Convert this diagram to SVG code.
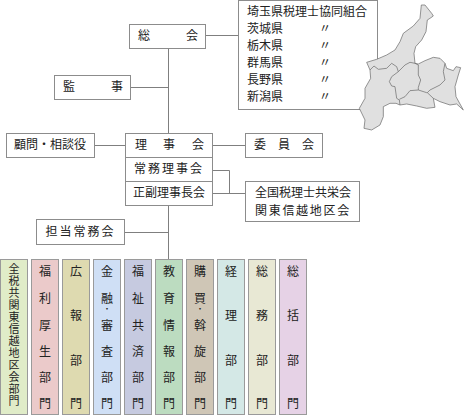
<svg xmlns="http://www.w3.org/2000/svg" width="464" height="416" viewBox="0 0 464 416">
<style>
.b{fill:#fff;stroke:#8c8c8c;stroke-width:1}
.c{fill:none;stroke:#7f7f7f;stroke-width:1}
.d{stroke:#9a9a9a;stroke-width:1}
text{font-family:"Noto Sans CJK JP","Noto Sans",sans-serif;font-size:12px;fill:#222}
.m{text-anchor:middle}
.s{font-size:11px}
.t{font-size:8px}
.map{fill:#e0e0e0;stroke:#6a6a6a;stroke-width:2.1;stroke-linejoin:round}
.bd{fill:none;stroke:#6a6a6a;stroke-width:2.1;stroke-linejoin:round}
</style>
<g id="connectors">
<path class="c" d="M168.500 48V133M131 87.500H168M94 145.500H125M168.500 205V259M124 232.500H168M206 35.500H238M212 145.500H245M213 170.500H229.500V193.500H245M213 193.500H230"/>
</g>
<g id="soukai"><rect class="b" x="129.500" y="24.500" width="76" height="24"/><text x="138" y="40">総</text><text x="186" y="40">会</text></g>
<g id="kansa"><rect class="b" x="54.500" y="75.500" width="76" height="24"/><text x="63" y="91">監</text><text x="111" y="91">事</text></g>
<g id="komon"><rect class="b" x="6.500" y="133.500" width="88" height="24"/><text x="50" y="149" class="m">顧問・相談役</text></g>
<g id="rijikai"><rect class="b" x="125.500" y="133.500" width="87" height="24"/><text x="135" y="149">理</text><text x="163" y="149">事</text><text x="192" y="149">会</text></g>
<g id="joumu"><rect class="b" x="125.500" y="157.500" width="87" height="24"/><text x="169" y="173" class="m" letter-spacing="2">常務理事会</text></g>
<g id="seifuku"><rect class="b" x="125.500" y="181.500" width="87" height="24"/><text x="169" y="197" class="m">正副理事長会</text></g>
<g id="tantou"><rect class="b" x="36.500" y="219.500" width="88" height="25"/><text x="80.500" y="236" class="m" letter-spacing="2">担当常務会</text></g>
<g id="iinkai"><rect class="b" x="245.500" y="133.500" width="77" height="24"/><text x="254" y="149">委</text><text x="278" y="149">員</text><text x="302" y="149">会</text></g>
<g id="zenkoku"><rect class="b" x="245.500" y="181.500" width="114" height="40"/><text x="255" y="197">全国税理士共栄会</text><text x="255" y="215" letter-spacing="1.700">関東信越地区会</text></g>
<g id="kumiai"><rect class="b" x="238.500" y="0.500" width="139" height="109"/><text x="247" y="16">埼玉県税理士協同組合</text>
<text x="247" y="33">茨城県</text><text x="319" y="33">〃</text><text x="247" y="50">栃木県</text><text x="319" y="50">〃</text><text x="247" y="67">群馬県</text><text x="319" y="67">〃</text><text x="247" y="84">長野県</text><text x="319" y="84">〃</text><text x="247" y="101">新潟県</text><text x="319" y="101">〃</text></g>
<g id="map" transform="translate(350 0) scale(.3333)">
<path class="map" d="M50 187L80 178L110 165L135 150L150 125L160 100L190 78L210 55L214 15L225 15L245 40L250 48L240 55L232 60L228 95L215 120L197 140L192 160L195 190L205 192L225 182L250 172L270 175L285 190L290 205L310 212L318 200L332 203L325 225L315 260L318 290L340 330L320 312L300 315L270 305L250 295L255 322L230 325L200 318L170 312L150 315L138 310L120 310L100 320L100 350L90 375L65 390L42 385L45 360L28 325L45 295L45 265L62 235L60 210Z"/>
<path class="bd" d="M60 210L72 198L85 208L110 205L125 190L140 200L145 215L165 195L180 187L195 190L205 195L205 225L212 240L205 262L205 270L230 278L232 278L240 270L270 255L285 240L280 215L285 190M145 215L125 230L118 245L125 258L135 260L140 295L148 300L150 315M148 298L165 290L180 272L205 270M232 278L250 295"/>
</g>
<g id="dept1"><rect class="d" x="0.500" y="259.500" width="27" height="155" fill="#e0ecc8"/><text class="m s" x="14" y="273">全</text><text class="m s" x="14" y="285">税</text><text class="m s" x="14" y="297">共</text><text class="m s" x="14" y="309">関</text><text class="m s" x="14" y="321">東</text><text class="m s" x="14" y="333">信</text><text class="m s" x="14" y="345">越</text><text class="m s" x="14" y="357">地</text><text class="m s" x="14" y="369">区</text><text class="m s" x="14" y="381">会</text><text class="m s" x="14" y="393">部</text><text class="m s" x="14" y="405">門</text></g>
<g id="dept2"><rect class="d" x="31.500" y="259.500" width="27" height="155" fill="#ebcaca"/><text class="m" x="45" y="276">福</text><text class="m" x="45" y="303">利</text><text class="m" x="45" y="330">厚</text><text class="m" x="45" y="356">生</text><text class="m" x="45" y="382">部</text><text class="m" x="45" y="408">門</text></g>
<g id="dept3"><rect class="d" x="62.500" y="259.500" width="27" height="155" fill="#dedab0"/><text class="m" x="76" y="276">広</text><text class="m" x="76" y="320">報</text><text class="m" x="76" y="365">部</text><text class="m" x="76" y="408">門</text></g>
<g id="dept4"><rect class="d" x="93.500" y="259.500" width="27" height="155" fill="#cfdff5"/><text class="m" x="107" y="276">金</text><text class="m" x="107" y="303">融</text><text class="m t" x="107" y="312">・</text><text class="m" x="107" y="330">審</text><text class="m" x="107" y="356">査</text><text class="m" x="107" y="382">部</text><text class="m" x="107" y="408">門</text></g>
<g id="dept5"><rect class="d" x="124.500" y="259.500" width="27" height="155" fill="#c6cae0"/><text class="m" x="138" y="276">福</text><text class="m" x="138" y="303">祉</text><text class="m" x="138" y="330">共</text><text class="m" x="138" y="356">済</text><text class="m" x="138" y="382">部</text><text class="m" x="138" y="408">門</text></g>
<g id="dept6"><rect class="d" x="155.500" y="259.500" width="27" height="155" fill="#bcdcc0"/><text class="m" x="169" y="276">教</text><text class="m" x="169" y="303">育</text><text class="m" x="169" y="330">情</text><text class="m" x="169" y="356">報</text><text class="m" x="169" y="382">部</text><text class="m" x="169" y="408">門</text></g>
<g id="dept7"><rect class="d" x="186.500" y="259.500" width="27" height="155" fill="#cfc6b6"/><text class="m" x="200" y="276">購</text><text class="m" x="200" y="303">買</text><text class="m t" x="200" y="312">・</text><text class="m" x="200" y="330">斡</text><text class="m" x="200" y="356">旋</text><text class="m" x="200" y="382">部</text><text class="m" x="200" y="408">門</text></g>
<g id="dept8"><rect class="d" x="217.500" y="259.500" width="27" height="155" fill="#d4e8e6"/><text class="m" x="231" y="276">経</text><text class="m" x="231" y="320">理</text><text class="m" x="231" y="365">部</text><text class="m" x="231" y="408">門</text></g>
<g id="dept9"><rect class="d" x="248.500" y="259.500" width="27" height="155" fill="#e8e8d4"/><text class="m" x="262" y="276">総</text><text class="m" x="262" y="320">務</text><text class="m" x="262" y="365">部</text><text class="m" x="262" y="408">門</text></g>
<g id="dept10"><rect class="d" x="279.500" y="259.500" width="27" height="155" fill="#e6d2e6"/><text class="m" x="293" y="276">総</text><text class="m" x="293" y="320">括</text><text class="m" x="293" y="365">部</text><text class="m" x="293" y="408">門</text></g>
</svg>
